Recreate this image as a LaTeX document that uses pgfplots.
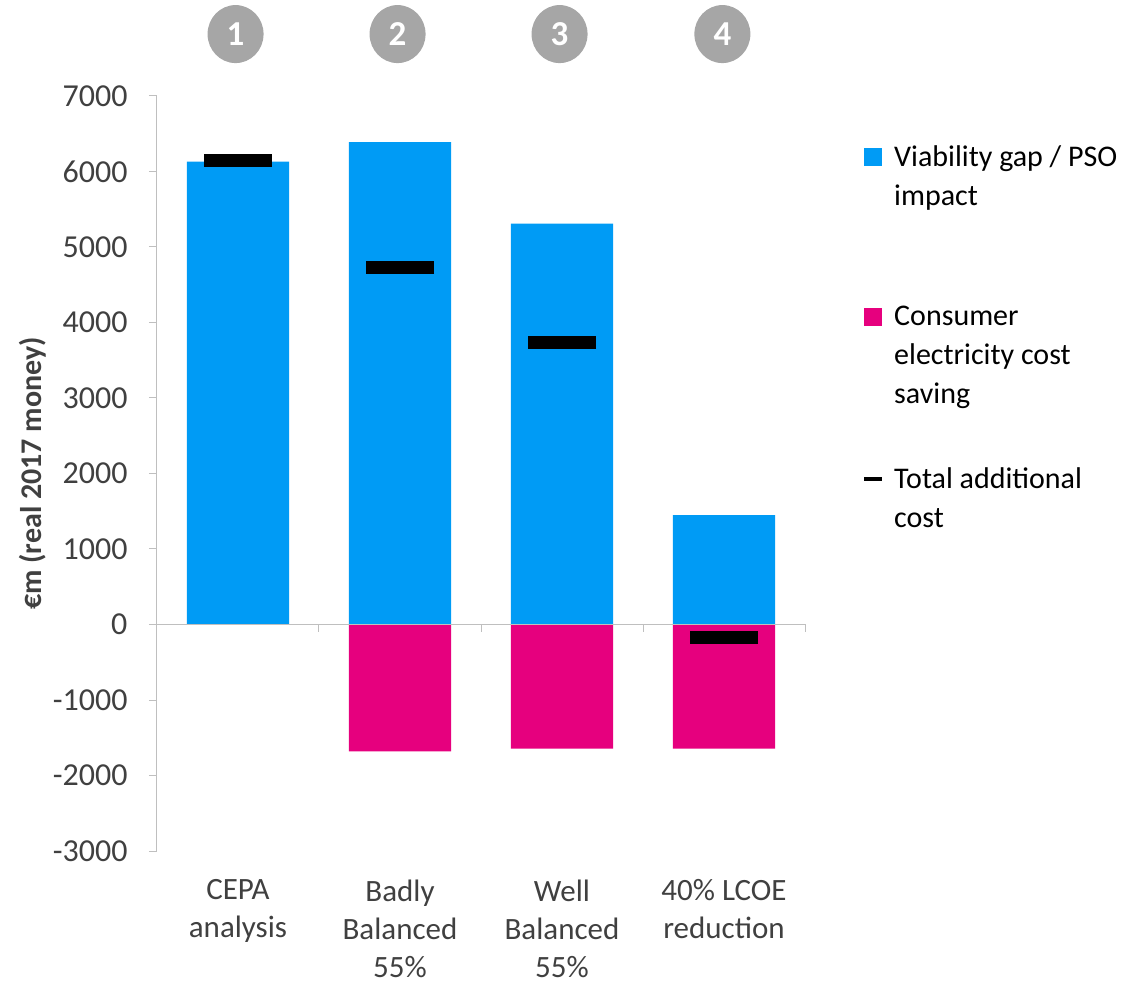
\documentclass[border=0pt]{standalone}
\usepackage{pgfplots}
\pgfplotsset{compat=1.18}
\usetikzlibrary{shapes.geometric}
\usepackage{fontspec}
\setmainfont{Carlito}
\definecolor{vblue}{RGB}{0,155,245}
\definecolor{cmag}{RGB}{230,0,126}
\definecolor{axgray}{RGB}{191,191,191}
\definecolor{txtgray}{RGB}{64,64,64}
\definecolor{circgray}{RGB}{166,166,166}
\begin{document}
\begin{tikzpicture}
\useasboundingbox (-157pt,-132pt) rectangle (986pt,851pt);
\begin{axis}[
 at={(0pt,0pt)}, anchor=south west,
 scale only axis, width=648pt, height=755pt,
 xmin=-0.5, xmax=3.5, ymin=-3000, ymax=7000,
 axis y line*=left, axis x line*=bottom,
 x axis line style={draw=none},
 y axis line style={draw=axgray, line width=1pt},
 ytick={-3000,-2000,...,7000},
 ytick style={draw=axgray, line width=1pt},
 tick align=outside, major tick length=8pt,
 xtick={0,1,2,3}, xtick style={draw=none},
 xticklabels={{CEPA\\analysis},{Badly\\Balanced\\55\%},{Well\\Balanced\\55\%},{40\% LCOE\\reduction}},
 xticklabel style={align=center, font=\fontsize{31}{38}\selectfont, text=txtgray, anchor=north, yshift=-17pt},
 yticklabel style={font=\fontsize{32}{36}\selectfont, text=txtgray, xshift=-18pt},
 /pgf/number format/assume math mode=true,
 /pgf/number format/1000 sep={},
 ylabel={\bfseries €m (real 2017 money)},
 ylabel style={font=\fontsize{30}{36}\selectfont, text=txtgray, at={(axis description cs:-0.192,0.5)}, anchor=center},
 clip=false,
 legend style={at={(axis description cs:1.088,0.935)}, anchor=north west, draw=none, fill=none,
   inner sep=0pt, column sep=10pt, row sep=0pt, font=\fontsize{30}{39}\selectfont,
   nodes={inner sep=0pt, text depth=}, cells={anchor=base west}},
]
\addplot[ybar, bar width=0.63, bar shift=0pt, fill=vblue, draw=none,
  legend image code/.code={\fill[vblue] (0pt,0pt) rectangle (18pt,18pt);}]
  coordinates {(0,6130) (1,6390) (2,5310) (3,1450)};
\addlegendentry{\parbox[t][161pt][t]{250pt}{\raggedright Viability gap / PSO\\impact}}
\addplot[ybar, bar width=0.63, bar shift=0pt, fill=cmag, draw=none,
  legend image code/.code={\fill[cmag] (0pt,0pt) rectangle (18pt,18pt);}]
  coordinates {(0,0) (1,-1680) (2,-1645) (3,-1645)};
\addlegendentry{\parbox[t][161pt][t]{250pt}{\raggedright Consumer\\electricity cost\\saving}}
\addplot[only marks, mark=-, mark size=34pt, mark options={line width=13pt, draw=black},
  legend image code/.code={\draw[black, line width=4pt] (0pt,9pt) -- (18pt,9pt);}]
  coordinates {(0,6150) (1,4730) (2,3730) (3,-170)};
\addlegendentry{\parbox[t][100pt][t]{250pt}{\raggedright Total additional\\cost}}
\draw[axgray, line width=1pt] (axis cs:-0.5,0) -- (axis cs:3.5,0);
\draw[axgray, line width=1pt] (axis cs:0.5,0) -- ([yshift=-8pt]axis cs:0.5,0);
\draw[axgray, line width=1pt] (axis cs:1.5,0) -- ([yshift=-8pt]axis cs:1.5,0);
\draw[axgray, line width=1pt] (axis cs:2.5,0) -- ([yshift=-8pt]axis cs:2.5,0);
\draw[axgray, line width=1pt] (axis cs:3.5,0) -- ([yshift=-8pt]axis cs:3.5,0);
\node[ellipse, fill=circgray, minimum width=56pt, minimum height=58pt, inner sep=0pt, text=white, font=\bfseries\fontsize{35}{38}\selectfont] at (axis cs:-0.015,7820) {1};
\node[ellipse, fill=circgray, minimum width=56pt, minimum height=58pt, inner sep=0pt, text=white, font=\bfseries\fontsize{35}{38}\selectfont] at (axis cs:0.985,7820) {2};
\node[ellipse, fill=circgray, minimum width=56pt, minimum height=58pt, inner sep=0pt, text=white, font=\bfseries\fontsize{35}{38}\selectfont] at (axis cs:1.985,7820) {3};
\node[ellipse, fill=circgray, minimum width=56pt, minimum height=58pt, inner sep=0pt, text=white, font=\bfseries\fontsize{35}{38}\selectfont] at (axis cs:2.99,7820) {4};
\end{axis}
\end{tikzpicture}
\end{document}
